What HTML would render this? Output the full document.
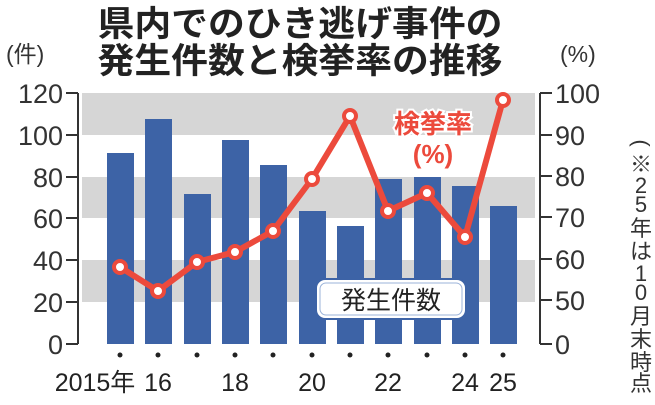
<!DOCTYPE html>
<html><head><meta charset="utf-8"><style>
body{margin:0;background:#fff}
svg text{font-family:"Liberation Sans","Noto Sans CJK JP",sans-serif;}
</style></head><body>
<svg width="655" height="400" viewBox="0 0 655 400" xmlns="http://www.w3.org/2000/svg">
<rect width="655" height="400" fill="#fff"/>
<g font-weight="bold" font-size="35" text-anchor="middle" fill="#222">
<text x="300" y="36" textLength="405" lengthAdjust="spacingAndGlyphs">県内でのひき逃げ事件の</text>
<text x="300" y="73" textLength="405" lengthAdjust="spacingAndGlyphs">発生件数と検挙率の推移</text>
</g>
<text x="6" y="62" font-size="23" fill="#333">(件)</text>
<text x="560" y="62" font-size="23" fill="#333">(%)</text>
<g fill="#d6d6d6">
<rect x="82" y="93" width="453" height="42"/>
<rect x="82" y="177" width="453" height="41"/>
<rect x="82" y="260" width="453" height="42"/>
</g>
<g fill="#3d63a6">
<rect x="107" y="153" width="27" height="191"/>
<rect x="145" y="119" width="27" height="225"/>
<rect x="184" y="194" width="27" height="150"/>
<rect x="222" y="140" width="27" height="204"/>
<rect x="260" y="165" width="27" height="179"/>
<rect x="299" y="211" width="27" height="133"/>
<rect x="337" y="226" width="27" height="118"/>
<rect x="375" y="179" width="27" height="165"/>
<rect x="414" y="177" width="27" height="167"/>
<rect x="452" y="186" width="27" height="158"/>
<rect x="490" y="206" width="27" height="138"/>
</g>
<g stroke="#333" stroke-width="2" fill="none">
<path d="M78 93V344M66 93H78M66 135H78M66 177H78M66 218H78M66 260H78M66 302H78M66 344H78"/>
<path d="M540 93V344M540 93H552M540 135H552M540 176H552M540 217H552M540 259H552M540 300H552M540 344H552"/>
</g>
<g font-size="27" fill="#333" text-anchor="end">
<text x="63" y="103">120</text><text x="63" y="145">100</text><text x="63" y="187">80</text>
<text x="63" y="228">60</text><text x="63" y="270">40</text><text x="63" y="312">20</text><text x="63" y="354">0</text>
</g>
<g font-size="27" fill="#333">
<text x="555" y="103">100</text><text x="555" y="145">90</text><text x="555" y="186">80</text>
<text x="555" y="227">70</text><text x="555" y="269">60</text><text x="555" y="310">50</text><text x="555" y="354">0</text>
</g>
<rect x="316" y="279" width="150" height="40" rx="9" fill="#fff" stroke="#3d63a6" stroke-width="2"/>
<rect x="320" y="283" width="142" height="32" rx="6" fill="none" stroke="#9bb3d9" stroke-width="1"/>
<text x="391" y="309" font-size="25" text-anchor="middle" fill="#222">発生件数</text>
<polyline points="120,267 158,291 197,262 235,252 273,231 312,179 350,116 388,211 427,193 465,237 503,100" fill="none" stroke="#ec4a3c" stroke-width="6" stroke-linejoin="round"/>
<g fill="#fff" stroke="#ec4a3c" stroke-width="4">
<circle cx="120" cy="267" r="6"/><circle cx="158" cy="291" r="6"/><circle cx="197" cy="262" r="6"/>
<circle cx="235" cy="252" r="6"/><circle cx="273" cy="231" r="6"/><circle cx="312" cy="179" r="6"/>
<circle cx="350" cy="116" r="6"/><circle cx="388" cy="211" r="6"/><circle cx="427" cy="193" r="6"/>
<circle cx="465" cy="237" r="6"/><circle cx="503" cy="100" r="6"/>
</g>
<g font-size="26" font-weight="bold" fill="#ec4a3c" text-anchor="middle" stroke="#fff" stroke-width="4" paint-order="stroke">
<text x="433" y="133">検挙率</text><text x="433" y="163">(%)</text>
</g>
<g fill="#222">
<circle cx="120" cy="355" r="2.5"/><circle cx="158" cy="355" r="2.5"/><circle cx="197" cy="355" r="2.5"/>
<circle cx="235" cy="355" r="2.5"/><circle cx="273" cy="355" r="2.5"/><circle cx="312" cy="355" r="2.5"/>
<circle cx="350" cy="355" r="2.5"/><circle cx="388" cy="355" r="2.5"/><circle cx="427" cy="355" r="2.5"/>
<circle cx="465" cy="355" r="2.5"/><circle cx="503" cy="355" r="2.5"/>
</g>
<g font-size="25" fill="#222" text-anchor="middle">
<text x="95" y="391">2015年</text><text x="158" y="391">16</text><text x="235" y="391">18</text>
<text x="312" y="391">20</text><text x="388" y="391">22</text><text x="465" y="391">24</text><text x="503" y="391">25</text>
</g>
<g font-size="22" fill="#333" text-anchor="middle">
<text x="641" y="150" transform="rotate(90 641 143)">(</text>
<text x="641" y="172">※</text>
<text x="641" y="193">2</text><text x="641" y="212">5</text>
<text x="641" y="236">年</text><text x="641" y="259">は</text>
<text x="641" y="281">1</text><text x="641" y="300">0</text>
<text x="641" y="324">月</text><text x="641" y="347">末</text>
<text x="641" y="370">時</text><text x="641" y="391">点</text>
</g>
</svg>
</body></html>
